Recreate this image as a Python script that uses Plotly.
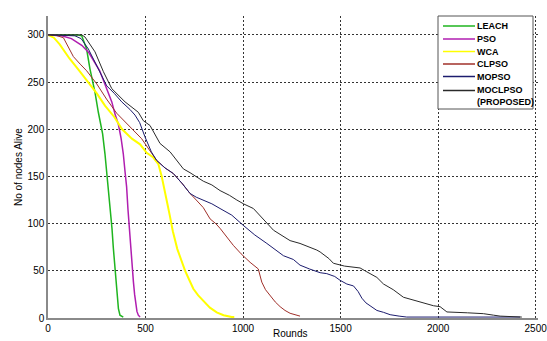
import plotly.graph_objects as go

# ---------------- data ----------------
series_names = ["LEACH", "PSO", "WCA", "CLPSO", "MOPSO", "MOCLPSO<br>(PROPOSED)"]
series_colors = ["#1fb51f", "#b01eb0", "#ffff00", "#a0302a", "#1c1c6e", "#2a2a2a"]
series_widths = [1.5, 1.5, 2, 1, 1, 1]

leach_x = [0, 150, 173, 198, 215, 241, 258, 270, 280, 292, 309, 321, 328, 335, 342, 349, 356, 361, 369, 386]
leach_y = [300, 300, 299, 285, 264, 239, 218, 205, 195, 174, 139, 110, 95, 74, 55, 38, 20, 10, 3, 1]

pso_x = [0, 70, 120, 173, 210, 241, 265, 284, 305, 327, 345, 361, 375, 386, 395, 403, 410, 417, 424, 431, 438, 444, 450, 456, 463, 472]
pso_y = [300, 299, 296, 289, 281, 271, 262, 252, 240, 229, 215, 205, 190, 174, 155, 139, 115, 93, 73, 55, 38, 25, 13, 7, 3, 1]

wca_x = [0, 30, 60, 110, 160, 205, 250, 292, 340, 380, 430, 472, 506, 540, 566, 583, 600, 612, 625, 640, 663, 685, 703, 725, 745, 770, 797, 830, 865, 900, 942, 955]
wca_y = [300, 297, 290, 275, 262, 250, 238, 225, 213, 200, 190, 184, 175, 170, 163, 150, 135, 121, 108, 92, 73, 60, 50, 40, 31, 24, 18, 11, 6, 3, 1, 1]

clpso_x = [0, 40, 79, 105, 130, 165, 198, 250, 300, 352, 400, 437, 480, 520, 557, 600, 643, 690, 728, 760, 796, 831, 860, 882, 915, 950, 990, 1036, 1078, 1096, 1115, 1138, 1165, 1190, 1215, 1241, 1270, 1292]
clpso_y = [300, 299.5, 297, 287, 277, 269, 262, 248, 232, 217, 207, 199, 190, 178, 167, 159, 153, 142, 132, 125, 117, 105, 100, 95, 86, 77, 68, 59, 52, 38, 30, 24, 17, 12, 8, 5, 3, 2]

mopso_x = [0, 138, 170, 207, 258, 301, 340, 378, 420, 446, 470, 497, 530, 557, 600, 643, 690, 728, 760, 796, 840, 882, 942, 1002, 1060, 1122, 1170, 1207, 1258, 1292, 1340, 1395, 1429, 1470, 1497, 1532, 1566, 1590, 1609, 1630, 1651, 1686, 1720, 1754, 1800, 1839, 2420]
mopso_y = [300, 299, 296, 285, 264, 246, 238, 229, 221, 215, 207, 192, 176, 167, 159, 153, 142, 132, 128, 125, 121, 116, 109, 98, 88, 79, 72, 66, 62, 56, 52, 48, 47, 44, 40, 36, 34, 28, 21, 16, 13, 8, 6, 3.5, 2, 1, 1]

mocl_x = [0, 173, 190, 241, 284, 327, 395, 463, 489, 523, 574, 626, 694, 728, 796, 840, 882, 930, 968, 1002, 1053, 1122, 1156, 1241, 1292, 1378, 1395, 1440, 1463, 1520, 1600, 1634, 1686, 1720, 1770, 1822, 1870, 1908, 1976, 2010, 2045, 2150, 2232, 2284, 2318, 2429]
mocl_y = [300, 300, 297.7, 282, 261, 243, 229, 218, 209, 204, 185, 176, 158, 154, 145, 141, 135, 130, 125, 121, 116, 101, 93, 82, 79, 72, 70, 63, 58, 55, 53, 49, 43, 36, 30, 22, 19, 17, 13, 12, 6.4, 5.5, 4.6, 3, 2, 1]

series_x = [leach_x, pso_x, wca_x, clpso_x, mopso_x, mocl_x]
series_y = [leach_y, pso_y, wca_y, clpso_y, mopso_y, mocl_y]

x_ticks = [0, 500, 1000, 1500, 2000, 2500]
y_ticks = [0, 50, 100, 150, 200, 250, 300]

# ---------------- layout constants ----------------
W, H = 547, 341
ML, MR, MT, MB = 48, 9, 16, 23
PW, PH = W - ML - MR, H - MT - MB

def px_to_paper_x(px):
    return (px - ML) / PW

def px_to_paper_y(py):
    return (H - MB - py) / PH

fig = go.Figure()
for name, xs, ys, col, w in zip(series_names, series_x, series_y, series_colors, series_widths):
    fig.add_trace(go.Scatter(x=xs, y=ys, mode="lines", name=name,
                             line=dict(color=col, width=w), showlegend=False))

grid = dict(showgrid=True, gridcolor="#333333", gridwidth=1, griddash="2px,2px",
            zeroline=False, showline=True, linecolor="#8a8a8a", linewidth=1.5,
            ticks="", automargin=False, ticklabeloverflow="allow",
            tickfont=dict(family="Liberation Sans, Arial", size=10, color="#000"))

fig.update_layout(
    width=W, height=H,
    margin=dict(l=ML, r=MR, t=MT, b=MB, autoexpand=False),
    paper_bgcolor="white", plot_bgcolor="white",
    xaxis=dict(range=[0, 2512], tickvals=x_ticks, **grid),
    yaxis=dict(range=[0, 320], tickvals=y_ticks, **grid),
    font=dict(family="Liberation Sans, Arial", size=10, color="#000"),
)

# axis titles
fig.add_annotation(text="No of nodes Alive", xref="paper", yref="paper",
                   x=px_to_paper_x(18), y=0.5, textangle=-90, showarrow=False,
                   xanchor="center", yanchor="middle", font=dict(size=10))
fig.add_annotation(text="Rounds", xref="paper", yref="paper",
                   x=px_to_paper_x(290), y=px_to_paper_y(341), showarrow=False,
                   xanchor="center", yanchor="bottom", font=dict(size=10))

# legend (drawn compactly, MATLAB style)
box_l, box_r, box_t, box_b = 438, 533, 16, 109
fig.add_shape(type="rect", xref="paper", yref="paper",
              x0=px_to_paper_x(box_l), x1=px_to_paper_x(box_r),
              y0=px_to_paper_y(box_b), y1=px_to_paper_y(box_t),
              line=dict(color="#555555", width=1), fillcolor="white", layer="above")
row_py = [26, 39, 51.5, 64, 76.5, 96]
for name, col, py in zip(series_names, series_colors, row_py):
    line_py = py - 5.5 if "<br>" in name else py
    fig.add_shape(type="line", xref="paper", yref="paper",
                  x0=px_to_paper_x(443), x1=px_to_paper_x(475),
                  y0=px_to_paper_y(line_py), y1=px_to_paper_y(line_py),
                  line=dict(color=col, width=1.5), layer="above")
    fig.add_annotation(text="<b>" + name.replace("<br>", "</b><br><b>") + "</b>",
                       xref="paper", yref="paper",
                       x=px_to_paper_x(476), y=px_to_paper_y(py), showarrow=False,
                       xanchor="left", yanchor="middle", align="left",
                       borderpad=0, font=dict(size=9, color="#000"))

fig.write_html("out.html")
